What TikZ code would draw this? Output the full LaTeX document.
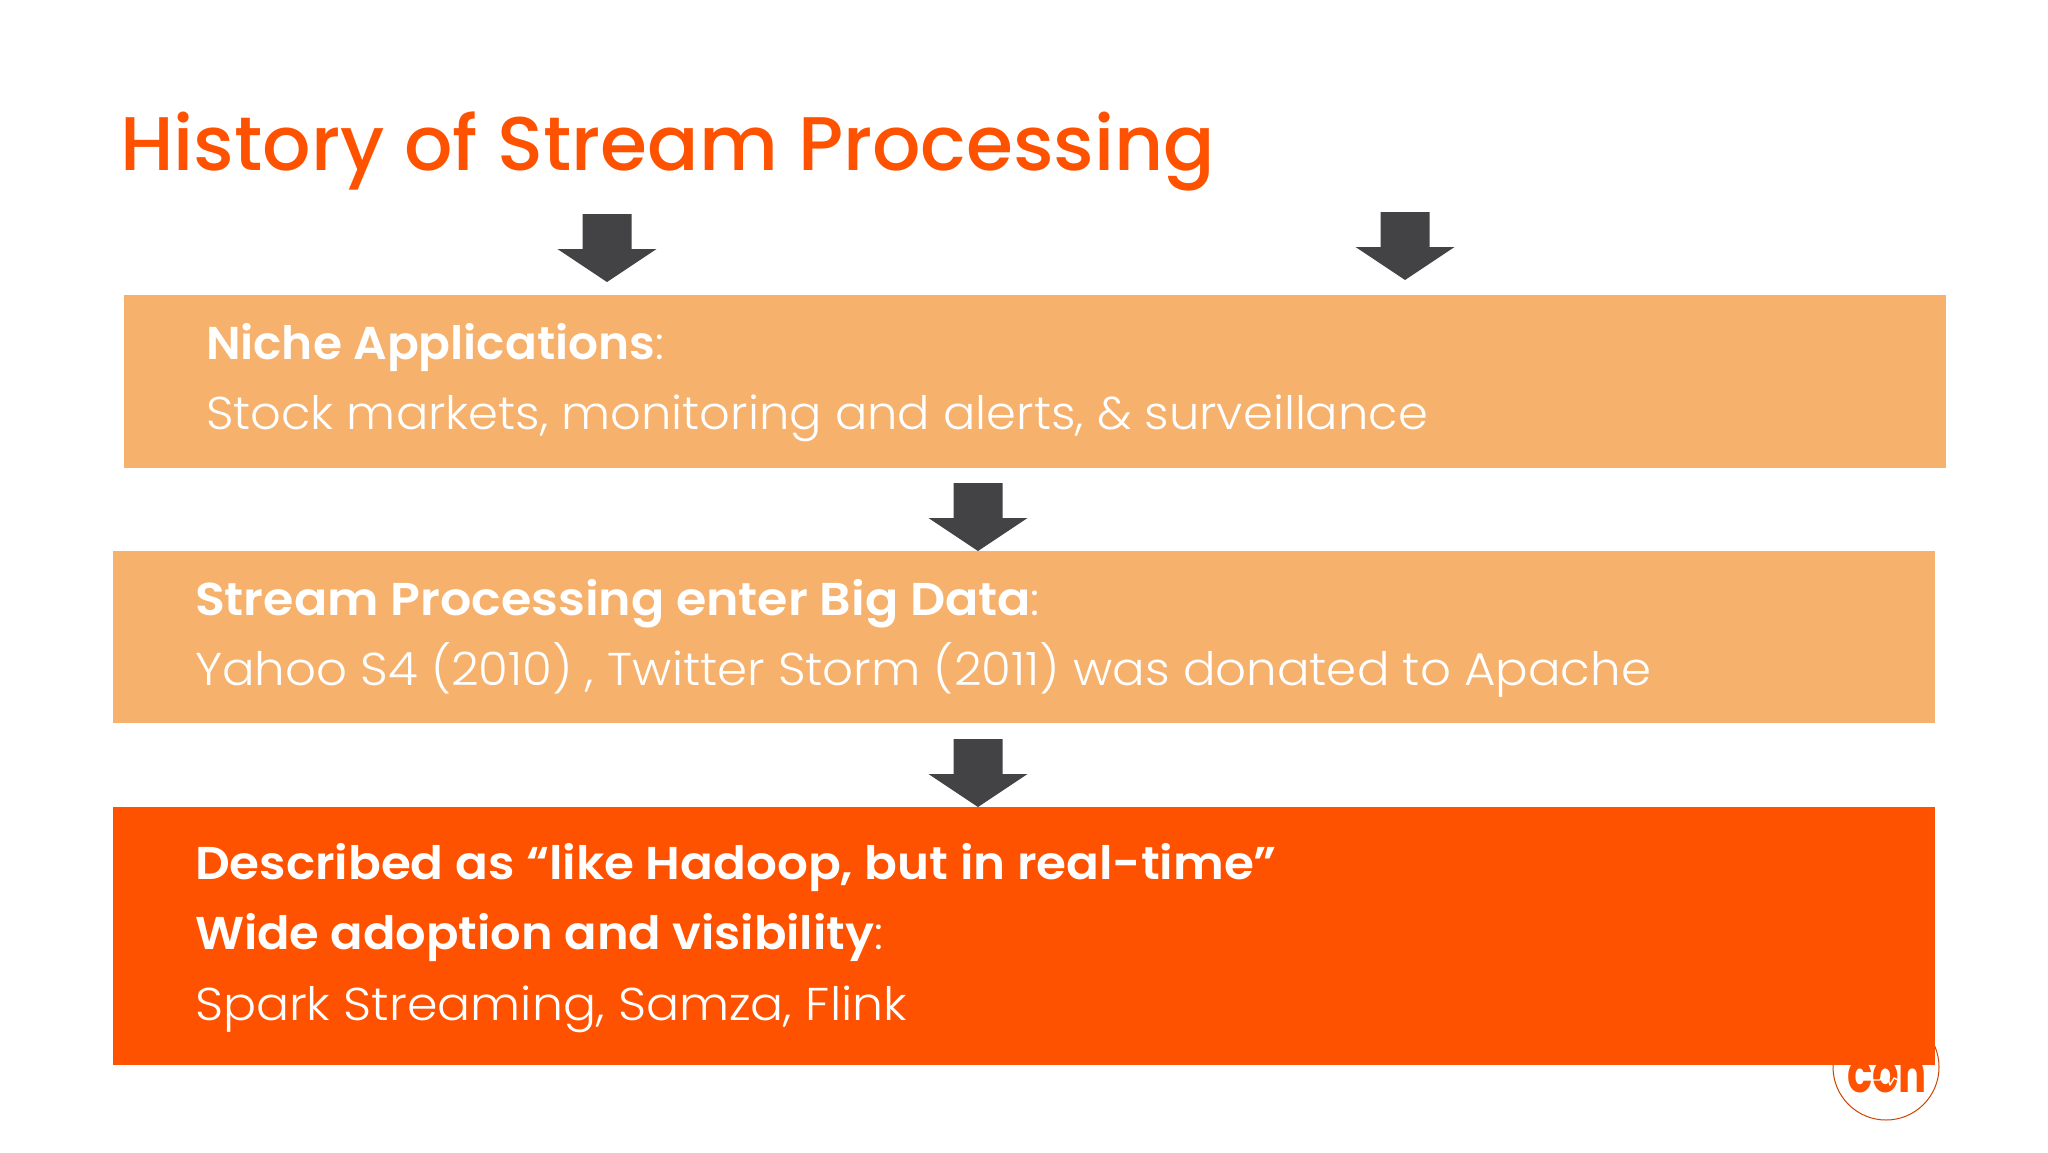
\documentclass[tikz,border=0pt]{standalone}
\usepackage{fontspec}
\usepackage{graphicx}
\setmainfont{Poppins}
\newfontfamily\lightf{Poppins Light}
\newfontfamily\medf{Poppins Medium}
\newfontfamily\semif{Poppins SemiBold}
\usetikzlibrary{calc}
\definecolor{tango}{HTML}{FF5200}
\definecolor{sand}{HTML}{F6B16D}
\definecolor{slate}{HTML}{434245}
\newcommand{\fitx}[2]{\resizebox{#1pt}{\height}{#2}}
\tikzset{
  x=1pt,y=-1pt,
  panel/.style={fill=#1,draw=none},
  downarrow/.style={fill=slate,draw=none},
  txt/.style={anchor=base west,inner sep=0pt,outer sep=0pt,text=white,font=\fontsize{46}{46}\selectfont},
}
\newcommand{\darrow}[2]{% centre x, top y
  \fill[downarrow] (#1-24.5,#2) -- (#1+24.5,#2) -- (#1+24.5,#2+35) -- (#1+49.5,#2+35) -- (#1,#2+68) -- (#1-49.5,#2+35) -- (#1-24.5,#2+35) -- cycle;}
\begin{document}
\begin{tikzpicture}
\useasboundingbox (0,0) rectangle (2048,1152);
\fill[white] (0,0) rectangle (2048,1152);
% logo
\node[circle,draw=tango!80!black,line width=1pt,minimum size=106pt,inner sep=0pt] (logoring) at (1886,1067) {};
\node[anchor=base,inner sep=0pt,text=tango,font=\fontsize{56}{56}\selectfont\bfseries] (logotext) at (1887,1092) {\fitx{80}{con}};
\draw[white,line width=1.4pt,line join=round] (1871,1080) -- (1880,1080) -- (1885,1069) -- (1890,1085) -- (1894,1078) -- (1898,1080);
% title
\node[anchor=base west,inner sep=0pt,text=tango,font=\fontsize{76}{76}\selectfont\medf] (title) at (120,170) {\fitx{1095}{History of Stream Processing}};
% panels
\node[panel=sand,anchor=north west,minimum width=1822pt,minimum height=172.5pt,inner sep=0pt] (p1) at (124,295) {};
\node[panel=sand,anchor=north west,minimum width=1822pt,minimum height=172pt,inner sep=0pt] (p2) at (113,551) {};
\node[panel=tango,anchor=north west,minimum width=1822pt,minimum height=258pt,inner sep=0pt] (p3) at (113,807) {};
% arrows
\darrow{607}{214}
\darrow{1405}{212}
\darrow{978}{483}
\darrow{978}{739}
% text
\node[txt] (t1a) at (206,359) {\fitx{458}{{\semif Niche Applications}{\lightf :}}};
\node[txt] (t1b) at (206,429) {\fitx{1222}{\lightf Stock markets, monitoring and alerts, \& surveillance}};
\node[txt] (t2a) at (195,615) {\fitx{845}{{\semif Stream Processing enter Big Data}{\lightf :}}};
\node[txt] (t2b) at (195,685) {\fitx{1456}{\lightf Yahoo S4 (2010) , Twitter Storm (2011) was donated to Apache}};
\node[txt] (t3a) at (195,879) {\fitx{1082}{\semif Described as “like Hadoop, but in real-time”}};
\node[txt] (t3b) at (195,949) {\fitx{688}{{\semif Wide adoption and visibility}{\lightf :}}};
\node[txt] (t3c) at (195,1020) {\fitx{712}{\lightf Spark Streaming, Samza, Flink}};
\end{tikzpicture}
\end{document}
